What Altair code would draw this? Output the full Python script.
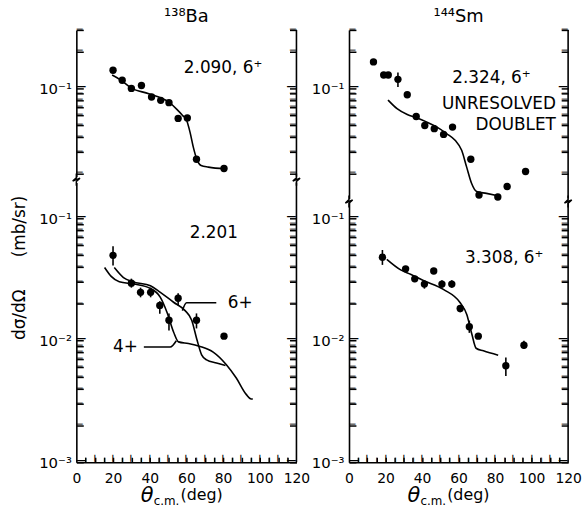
import altair as alt
import pandas as pd

FONT = "DejaVu Sans"
INK = "black"

# ---------------- DATA ----------------
# 138Ba, 2.090 MeV, 6+
ba_a_ang = [20, 25, 30, 35.5, 41, 46, 50.5, 55.5, 60.5, 65.5, 80.5]
ba_a_xs = [0.140, 0.116, 0.0995, 0.105, 0.0845, 0.0794, 0.0760, 0.0564, 0.0570, 0.0261, 0.0219]
ba_a_fit_ang = [19.5, 24, 30, 39.5, 50.3, 54.8, 57.8, 60.2, 62, 63.8, 65.6, 68, 72, 81]
ba_a_fit = [0.128, 0.117, 0.100, 0.090, 0.077, 0.067, 0.060, 0.054, 0.0434, 0.0327, 0.0263, 0.0232, 0.0225, 0.0218]

# 138Ba, 2.201 MeV
ba_b_ang = [20, 30, 35, 40.5, 45.5, 50.5, 55.5, 65.5, 80.5]
ba_b_xs = [0.0497, 0.0294, 0.0247, 0.0247, 0.0193, 0.0146, 0.0221, 0.0146, 0.0108]
ba_b_lo = [0.041, 0.027, 0.0225, 0.0225, 0.0165, 0.0120, 0.0193, 0.0125, 0.0108]
ba_b_hi = [0.059, 0.032, 0.027, 0.027, 0.0209, 0.0166, 0.0243, 0.0166, 0.0108]
ba_b_fit6_ang = [20.7, 25.7, 30.7, 40.4, 45.8, 53, 59.3, 62.9, 65.6, 68.3, 71, 76.4, 81.3]
ba_b_fit6 = [0.0395, 0.0327, 0.0302, 0.028, 0.0247, 0.0205, 0.0175, 0.0146, 0.0103, 0.0076, 0.0069, 0.0065, 0.0062]
ba_b_fit4_ang = [15.4, 19, 23.4, 31.4, 40.4, 45.8, 49.4, 53, 55.7, 61.1, 67.4, 74.6, 81.8, 87.2, 92.6, 95.3, 96.2]
ba_b_fit4 = [0.0395, 0.0334, 0.0302, 0.0289, 0.0266, 0.0225, 0.017, 0.0117, 0.0097, 0.0094, 0.0089, 0.0080, 0.0063, 0.0049, 0.0036, 0.0033, 0.0033]
ba_b_lead6_ang = [57.8, 60.1, 76.3]
ba_b_lead6 = [0.0175, 0.0203, 0.0203]
ba_b_lead4_ang = [36.8, 51.2, 54.5]
ba_b_lead4 = [0.0088, 0.0088, 0.0099]

# 144Sm, 2.324 MeV, 6+ (unresolved doublet)
sm_a_ang = [13.4, 19, 21.5, 26.8, 31.9, 36.8, 41.5, 46.7, 51.8, 56.7, 66.7, 71.2, 81.5, 86.6, 96.7]
sm_a_xs = [0.164, 0.128, 0.128, 0.118, 0.0883, 0.0585, 0.0494, 0.0465, 0.0417, 0.0479, 0.0261, 0.0133, 0.0128, 0.0156, 0.0207]
sm_a_lo = [0.164, 0.128, 0.128, 0.102, 0.0883, 0.0585, 0.0494, 0.0465, 0.0417, 0.0479, 0.0261, 0.0133, 0.0128, 0.0156, 0.0207]
sm_a_hi = [0.164, 0.128, 0.128, 0.134, 0.0883, 0.0585, 0.0494, 0.0465, 0.0417, 0.0479, 0.0261, 0.0133, 0.0128, 0.0156, 0.0207]
sm_a_fit_ang = [21.4, 26.5, 31.9, 37.3, 42.7, 48.2, 53.6, 58.1, 61.7, 64.4, 67.1, 69.9, 75.3, 81.5]
sm_a_fit = [0.0798, 0.0675, 0.0607, 0.057, 0.0526, 0.0479, 0.0422, 0.0373, 0.0309, 0.0226, 0.0166, 0.0142, 0.0137, 0.0131]

# 144Sm, 3.308 MeV, 6+
sm_b_ang = [18.3, 31, 36, 41.3, 46.4, 50.9, 56.3, 60.9, 65.9, 70.8, 85.9, 95.8]
sm_b_xs = [0.0479, 0.0385, 0.0319, 0.0289, 0.037, 0.0289, 0.0289, 0.0182, 0.0129, 0.0108, 0.00618, 0.0091]
sm_b_lo = [0.0415, 0.0365, 0.0300, 0.0265, 0.037, 0.027, 0.027, 0.0170, 0.0115, 0.0108, 0.0051, 0.0085]
sm_b_hi = [0.055, 0.040, 0.0335, 0.031, 0.037, 0.031, 0.031, 0.0195, 0.0145, 0.0108, 0.00723, 0.0099]
sm_b_fit_ang = [20.7, 28.3, 33.7, 41, 51.9, 60.9, 64.5, 67.3, 69.6, 73.6, 81.7]
sm_b_fit = [0.0461, 0.0378, 0.0348, 0.0308, 0.026, 0.0203, 0.0163, 0.0112, 0.0086, 0.0082, 0.00755]

# axis tick values
Y_DECADES = [0.001, 0.01, 0.1]
Y_MINOR_MULT = [2, 3, 4, 5, 6, 7, 8, 9]
X_MAJOR = [0, 20, 40, 60, 80, 100, 120]
X_TEN = [10, 20, 30, 40, 50, 60, 70, 80, 90, 100, 110]
X_FIVE = [5, 15, 25, 35, 45, 55, 65, 75, 85, 95, 105, 115]

# panel geometry (pixels per decade kept equal in all panels)
W_L, W_R = 222, 221
PX_DEC = 123.0
H_LT, H_LB = 148, 282
H_RT, H_RB = 170, 262
LT_DOM = [0.3 / 10 ** (H_LT / PX_DEC), 0.3]
LB_DOM = [0.001, 0.001 * 10 ** (H_LB / PX_DEC)]
RT_DOM = [0.3 / 10 ** (H_RT / PX_DEC), 0.3]
RB_DOM = [0.001, 0.001 * 10 ** (H_RB / PX_DEC)]

BREAK = "M0,-1L0,-0.3L-0.6,0.25L0.6,-0.25L0,0.3L0,1"
LABEL_EXPR = "datum.value < 0.005 ? '10⁻³' : (datum.value < 0.05 ? '10⁻²' : '10⁻¹')"
DASH = "—"
NB = "\u00a0"


def panel(w, h, dom, pts, errs, fits, texts, bottom, head=None, brk=False,
          ytitle=False, xtitle_left=65):
    lo, hi = dom
    xs = alt.Scale(domain=[0, 120], nice=False, zero=False)
    ys = alt.Scale(type="log", domain=[lo, hi], nice=False)
    maj = [v for v in Y_DECADES if lo * 0.999 <= v <= hi * 1.001]
    minor = [m * d for d in Y_DECADES for m in Y_MINOR_MULT if lo * 0.999 <= m * d <= hi * 1.001]

    y_lab = alt.Axis(values=maj, labelExpr=LABEL_EXPR, ticks=False, domain=True,
                     domainColor=INK, domainWidth=1.6, grid=False, title=None,
                     labelFont=FONT, labelFontSize=15, labelColor=INK, labelPadding=5)
    ytick_kw = dict(values=maj + minor, labels=False, domain=False, grid=False, title=None,
                    ticks=True, tickColor=INK, tickWidth=1.5, tickSize=7)
    y_tick_left = alt.Axis(orient="right", offset=-w, **ytick_kw)
    y_tick_right = alt.Axis(orient="left", offset=-w, **ytick_kw)
    if bottom:
        x_lab = alt.Axis(values=X_MAJOR, ticks=False, domain=True, domainColor=INK,
                         domainWidth=1.6, grid=False, title=None,
                         labelFont=FONT, labelFontSize=14,
                         labelColor=INK, labelPadding=9, labelFlush=False)
        x_tick = alt.Axis(orient="top", offset=-h, values=X_TEN + X_FIVE, labels=False,
                          domain=False, grid=False, title=None, ticks=True, tickColor=INK,
                          tickWidth=1.5, tickSize=5)
    else:
        x_lab = None
        x_tick = None

    def X(f, axis=None):
        return alt.X(f"{f}:Q", scale=xs, axis=axis)

    def Y(f, axis=None):
        return alt.Y(f"{f}:Q", scale=ys, axis=axis)

    layers = []
    ang, val = pts
    pdf = pd.DataFrame({"a": ang, "v": val})
    layers.append(alt.Chart(pdf).mark_point(
        filled=True, shape="circle", size=55, color=INK, opacity=1).encode(
        x=X("a", x_lab), y=Y("v", y_lab)))
    layers.append(alt.Chart(pdf).mark_point(opacity=0).encode(
        x=X("a", x_tick), y=Y("v", y_tick_left)))
    layers.append(alt.Chart(pdf).mark_point(opacity=0).encode(
        x=X("a"), y=Y("v", y_tick_right)))
    if errs is not None:
        elo, ehi = errs
        layers.append(alt.Chart(pd.DataFrame({"a": ang, "lo": elo, "hi": ehi})).mark_rule(
            color=INK, strokeWidth=1.6).encode(x=X("a"), y=Y("lo"), y2=alt.Y2("hi")))
    for fa, fv in fits:
        layers.append(alt.Chart(pd.DataFrame({"a": fa, "v": fv})).mark_line(
            color=INK, strokeWidth=1.6, interpolate="monotone").encode(x=X("a"), y=Y("v")))
    for (ta, tv, txt, align, size, weight) in texts:
        layers.append(alt.Chart(pd.DataFrame({"a": [ta], "v": [tv], "t": [txt]})).mark_text(
            align=align, baseline="middle", font=FONT, fontSize=size, fontWeight=weight,
            color=INK).encode(x=X("a"), y=Y("v"), text="t:N"))

    # inward ticks drawn as dash glyphs placed through the scales
    for vals, ln in ((maj, 10), (minor, 7)):
        if not vals:
            continue
        for edge, align in ((0, "left"), (120, "right")):
            d = pd.DataFrame({"a": [edge] * len(vals), "v": vals, "t": [DASH] * len(vals)})
            layers.append(alt.Chart(d).mark_text(
                align=align, baseline="middle", font=FONT, fontSize=ln, fontWeight="bold",
                color=INK, dy=-1).encode(x=X("a"), y=Y("v"), text="t:N"))
    if bottom:
        for vals, ln in ((X_TEN, 8), (X_FIVE, 5)):
            d = pd.DataFrame({"a": vals, "v": [lo] * len(vals), "t": [DASH] * len(vals)})
            layers.append(alt.Chart(d).mark_text(
                align="left", baseline="middle", font=FONT, fontSize=ln, fontWeight="bold",
                angle=270, color=INK).encode(x=X("a"), y=Y("v"), text="t:N"))
        # axis title: theta with subscript c.m.
        for txt, dx, dy, fs, style in (("θ", xtitle_left, 34, 21, "italic"),
                                        ("c.m.", xtitle_left + 13, 39, 12, "normal"),
                                        ("(deg)", xtitle_left + 40, 33, 16, "normal")):
            layers.append(alt.Chart(pd.DataFrame({"t": [txt]})).mark_text(
                align="left", baseline="middle", font=FONT, fontSize=fs, fontStyle=style,
                color=INK).encode(x=alt.value(dx), y=alt.value(h + dy), text="t:N"))
    one = pd.DataFrame({"k": [0]})
    # right frame line
    layers.append(alt.Chart(one).mark_rule(color=INK, strokeWidth=1.6).encode(
        x=alt.value(w), y=alt.value(0), y2=alt.value(h)))
    if brk:
        for xv in (0, w):
            layers.append(alt.Chart(one).mark_point(
                shape=BREAK, filled=False, size=150, color=INK, strokeWidth=1.5, opacity=1
            ).encode(x=alt.value(xv), y=alt.value(h + 3)))
    if head is not None:
        layers.append(alt.Chart(pd.DataFrame({"t": [head]})).mark_text(
            align="center", baseline="middle", font=FONT, fontSize=18, color=INK
        ).encode(x=alt.value(w / 2), y=alt.value(-13), text="t:N"))
    if ytitle:
        layers.append(alt.Chart(pd.DataFrame({"t": ["dσ/dΩ" + NB * 6 + "(mb/sr)"]})).mark_text(
            align="center", baseline="middle", font=FONT, fontSize=17, angle=270, color=INK
        ).encode(x=alt.value(-57), y=alt.value(86), text="t:N"))
    return alt.layer(*layers).resolve_axis(x="independent", y="independent").properties(
        width=w, height=h)


LT = panel(W_L, H_LT, LT_DOM, (ba_a_ang, ba_a_xs), None,
           [(ba_a_fit_ang, ba_a_fit)],
           [(80, 0.146, "2.090, 6⁺", "center", 17, "normal")],
           bottom=False, head="¹³⁸Ba", brk=True)

LB = panel(W_L, H_LB, LB_DOM, (ba_b_ang, ba_b_xs), (ba_b_lo, ba_b_hi),
           [(ba_b_fit6_ang, ba_b_fit6), (ba_b_fit4_ang, ba_b_fit4),
            (ba_b_lead6_ang, ba_b_lead6), (ba_b_lead4_ang, ba_b_lead4)],
           [(75, 0.076, "2.201", "center", 17, "normal"),
            (82.5, 0.0203, "6+", "left", 17, "normal"),
            (33.5, 0.0088, "4+", "right", 17, "normal")],
           bottom=True, ytitle=True, xtitle_left=65)

RT = panel(W_R, H_RT, RT_DOM, (sm_a_ang, sm_a_xs), (sm_a_lo, sm_a_hi),
           [(sm_a_fit_ang, sm_a_fit)],
           [(78, 0.12, "2.324, 6⁺", "center", 17, "normal"),
            (113.3, 0.074, "UNRESOLVED", "right", 17, "normal"),
            (113.3, 0.0494, "DOUBLET", "right", 17, "normal")],
           bottom=False, head="¹⁴⁴Sm", brk=True)

RB = panel(W_R, H_RB, RB_DOM, (sm_b_ang, sm_b_xs), (sm_b_lo, sm_b_hi),
           [(sm_b_fit_ang, sm_b_fit)],
           [(85, 0.047, "3.308, 6⁺", "center", 17, "normal")],
           bottom=True, xtitle_left=59)

left = alt.vconcat(LT, LB, spacing=6, bounds="flush")
right = alt.vconcat(RT, RB, spacing=4, bounds="flush")

chart = alt.hconcat(left, right, spacing=0).properties(
    padding={"left": 11, "top": 6, "right": 0, "bottom": 0}
).configure(background="white").configure_view(strokeWidth=0, stroke="transparent")

chart.save("out.html", embed_options={"renderer": "svg", "actions": False})
